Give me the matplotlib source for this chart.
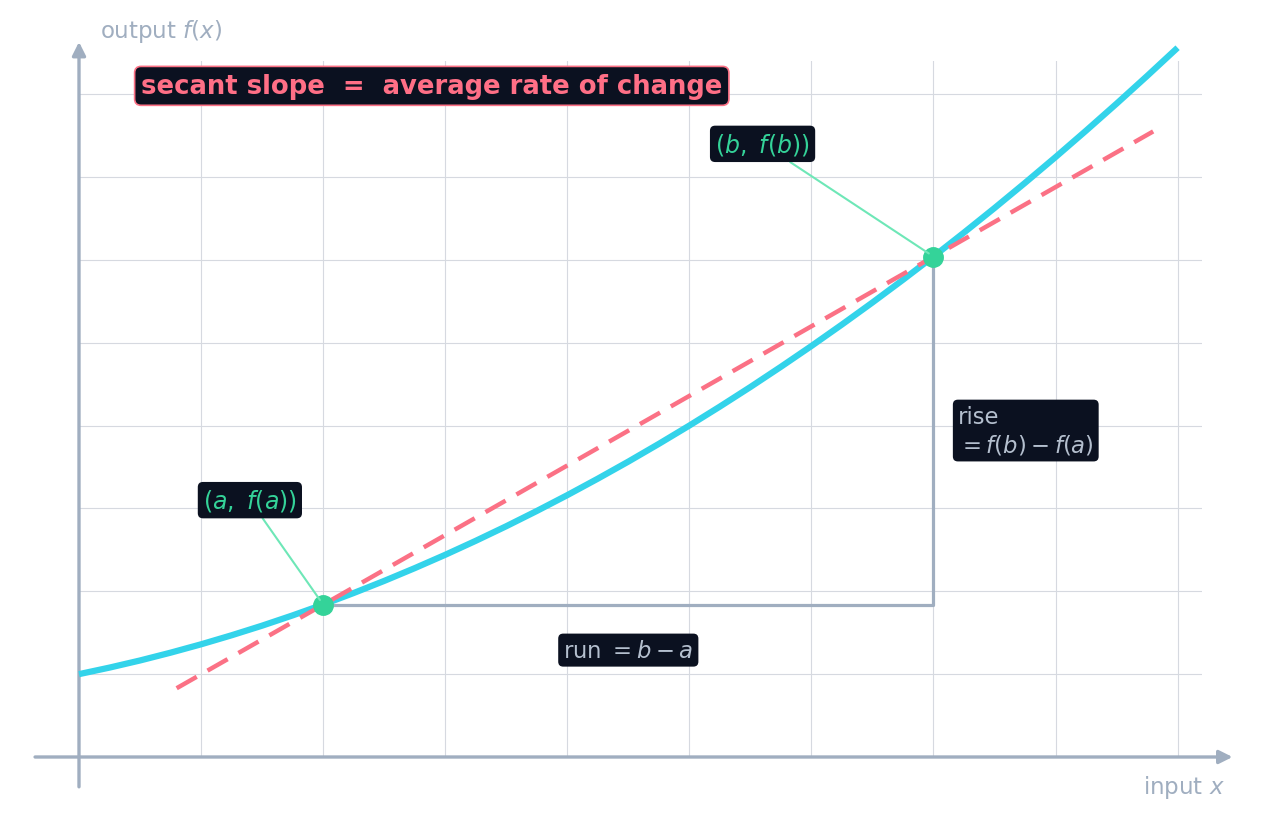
import matplotlib
matplotlib.use("Agg")
import matplotlib.pyplot as plt

# ---- data ----
curve_x = [0.0, 0.25, 0.5, 0.75, 1.0, 1.25, 1.5, 1.75, 2.0, 2.25, 2.5, 2.75, 3.0, 3.25, 3.5, 3.75,
           4.0, 4.25, 4.5, 4.75, 5.0, 5.25, 5.5, 5.75, 6.0, 6.25, 6.5, 6.75, 7.0, 7.25, 7.5, 7.75,
           8.0, 8.25, 8.5, 8.75, 9.0]
curve_y = [1.00, 1.079, 1.165, 1.259, 1.36, 1.469, 1.585, 1.709, 1.84, 1.979, 2.125, 2.279,
           2.44, 2.609, 2.785, 2.969, 3.16, 3.359, 3.565, 3.779, 4.00, 4.229, 4.465, 4.709,
           4.96, 5.219, 5.485, 5.759, 6.04, 6.329, 6.625, 6.929, 7.24, 7.559, 7.885, 8.219, 8.56]
secant_x = [0.8, 8.8]
secant_y = [0.83, 7.55]
point_x = [2.0, 7.0]
point_y = [1.84, 6.04]
point_labels = [r"$(a,\ f(a))$", r"$(b,\ f(b))$"]
label_pos = [(1.40, 3.10), (5.60, 7.40)]
grid_x = [1, 2, 3, 4, 5, 6, 7, 8, 9]
grid_y = [1, 2, 3, 4, 5, 6, 7, 8]

CYAN = "#33d3ea"
ROSE = "#fb7185"
GREEN = "#34d399"
GREEN_L = "#6ee7b7"
SLATE = "#a0aec0"
AXIS = "#a0aec0"
BOX = "#0b1120"
LABEL = "#b4bfce"

fig = plt.figure(figsize=(12.8, 8.2), dpi=100)
fig.patch.set_facecolor("white")
ax = fig.add_axes([79 / 1280, 62 / 820, (1202 - 79) / 1280, (758 - 62) / 820])
ax.set_xlim(0, 9.2)
ax.set_ylim(0, 8.4)
for s in ax.spines.values():
    s.set_visible(False)
ax.set_xticks(grid_x)
ax.set_yticks(grid_y)
ax.tick_params(length=0, labelbottom=False, labelleft=False)
ax.grid(True, color="#d6d9e0", lw=0.8)
ax.set_axisbelow(True)

# axes arrows
arrow_kw = dict(arrowstyle="-|>", lw=2.4, color=AXIS, mutation_scale=20, shrinkA=0, shrinkB=0)
ax.annotate("", xy=(9.45, 0), xytext=(-0.36, 0), arrowprops=arrow_kw, annotation_clip=False, zorder=3)
ax.annotate("", xy=(0, 8.63), xytext=(0, -0.36), arrowprops=arrow_kw, annotation_clip=False, zorder=3)

# run / rise legs
ax.plot([point_x[0], point_x[1], point_x[1]], [point_y[0], point_y[0], point_y[1]],
        color=AXIS, lw=2.3, zorder=3, solid_capstyle="butt")

# curve and secant
ax.plot(curve_x, curve_y, color=CYAN, lw=4.5, zorder=4, clip_on=False, solid_capstyle="butt")
ax.plot(secant_x, secant_y, color=ROSE, lw=3.2, zorder=5, dashes=(5.2, 2.8), clip_on=False)

# points
ax.plot(point_x, point_y, "o", color=GREEN, ms=14, zorder=7, clip_on=False)

# point labels
for (px, py), txt, (lx, ly) in zip(zip(point_x, point_y), point_labels, label_pos):
    ax.annotate(txt, xy=(px, py), xytext=(lx, ly), ha="center", va="center",
                fontsize=17, color=GREEN, zorder=8,
                bbox=dict(boxstyle="round,pad=0.22", fc=BOX, ec="none"),
                arrowprops=dict(arrowstyle="-", color=GREEN_L, lw=1.5, shrinkA=0, shrinkB=4))

# run / rise labels
ax.text(4.5, 1.29, r"run $= b - a$", ha="center", va="center", fontsize=16.4, color=LABEL, zorder=8,
        bbox=dict(boxstyle="round,pad=0.22", fc=BOX, ec="none"))
ax.text(7.2, 3.94, "rise\n$= f(b) - f(a)$", ha="left", va="center", fontsize=16.4, color=LABEL,
        zorder=8, linespacing=1.25, bbox=dict(boxstyle="round,pad=0.22", fc=BOX, ec="none"))

# title box
ax.text(2.89, 8.10, "secant slope  =  average rate of change", ha="center", va="center",
        fontsize=18.6, fontweight="bold", color="#ff6f86", zorder=9,
        bbox=dict(boxstyle="round,pad=0.25", fc=BOX, ec=ROSE, lw=1.2))

# axis labels
ax.text(0.17, 8.77, r"output $f(x)$", ha="left", va="center", fontsize=16.5, color=SLATE, clip_on=False)
ax.text(9.39, -0.36, r"input $x$", ha="right", va="center", fontsize=16.5, color=SLATE, clip_on=False)

fig.savefig("out.png", dpi=100)
